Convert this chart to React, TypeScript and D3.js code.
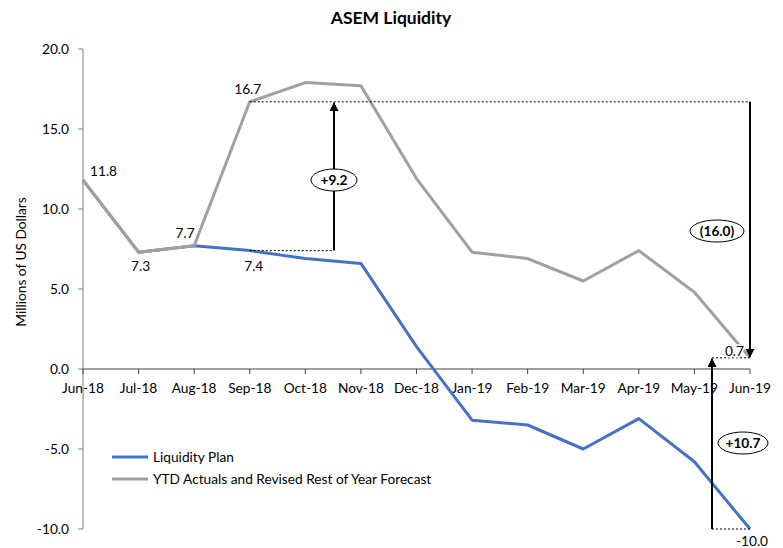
import React from "react";
import * as d3 from "d3";

const months = ["Jun-18","Jul-18","Aug-18","Sep-18","Oct-18","Nov-18","Dec-18","Jan-19","Feb-19","Mar-19","Apr-19","May-19","Jun-19"];
const planValues = [11.8, 7.3, 7.7, 7.4, 6.9, 6.6, 1.4, -3.2, -3.5, -5.0, -3.1, -5.8, -10.0];
const forecastValues = [11.8, 7.3, 7.7, 16.7, 17.9, 17.7, 11.9, 7.3, 6.9, 5.5, 7.4, 4.8, 0.7];
const yTicks = [-10, -5, 0, 5, 10, 15, 20];
const seriesNames = ["Liquidity Plan", "YTD Actuals and Revised Rest of Year Forecast"];
const pointLabels = [
  { series: "f", i: 0, text: "11.8", dx: 7, dy: -4, anchor: "start" },
  { series: "f", i: 1, text: "7.3", dx: 2, dy: 19, anchor: "middle" },
  { series: "f", i: 2, text: "7.7", dx: -9, dy: -8, anchor: "middle" },
  { series: "f", i: 3, text: "16.7", dx: -2, dy: -8, anchor: "middle" },
  { series: "p", i: 3, text: "7.4", dx: 4, dy: 20, anchor: "middle" },
];

const W = 783, H = 548;
const FONT = "Lato, 'Open Sans', sans-serif";
const FS = 13.7;

export default function App() {
  const x = d3.scalePoint<string>().domain(months).range([83, 750]);
  const y = d3.scaleLinear().domain([-10, 20]).range([529, 49]);
  const line = d3.line<number>().x((_, i) => x(months[i])!).y((d) => y(d));
  const blue = "#4472C4";
  const gray = "#A0A0A0";
  const axisColor = "#7f7f7f";

  const xSep = x("Sep-18")!;
  const xJun19 = x("Jun-19")!;
  const arrow1X = 334;
  const arrow3X = 712;
  const yPeak = y(forecastValues[3]);
  const yPlanSep = y(planValues[3]);
  const yEnd = y(forecastValues[12]);
  const yPlanEnd = y(planValues[12]);

  const ellipse = (cx: number, cy: number, rx: number, label: string) => (
    <g>
      <ellipse cx={cx} cy={cy} rx={rx} ry={11} fill="#fff" stroke="#000" strokeWidth={1} />
      <text x={cx} y={cy + 5} textAnchor="middle" fontWeight="bold" fontSize={FS} fontFamily={FONT}>{label}</text>
    </g>
  );

  return (
    <svg width={W} height={H} style={{ position: "absolute", left: 0, top: 0, background: "#fff" }}>
      <defs>
        <marker id="ah" viewBox="0 0 10 10" refX="9" refY="5" markerWidth="4.5" markerHeight="4.5" orient="auto">
          <path d="M0,0 L10,5 L0,10 z" fill="#000" />
        </marker>
      </defs>
      <rect width={W} height={H} fill="#fff" />
      <text x={391} y={24} textAnchor="middle" fontWeight="bold" fontSize={17.5} fontFamily={FONT}>ASEM Liquidity</text>

      {/* y axis */}
      <line x1={83} x2={83} y1={y(20)} y2={y(-10)} stroke={axisColor} strokeWidth={1} />
      {yTicks.map((t) => (
        <g key={t}>
          <line x1={78} x2={83} y1={y(t)} y2={y(t)} stroke={axisColor} />
          <text x={69} y={y(t) + 5} textAnchor="end" fontSize={FS} fontFamily={FONT} fill="#000">{t.toFixed(1)}</text>
        </g>
      ))}
      <text transform={`translate(26,262) rotate(-90)`} textAnchor="middle" fontSize={FS} fontFamily={FONT}>Millions of US Dollars</text>

      {/* x axis */}
      <line x1={83} x2={750} y1={y(0)} y2={y(0)} stroke="#404040" strokeWidth={1} />
      {months.map((m) => (
        <g key={m}>
          <line x1={x(m)} x2={x(m)} y1={y(0)} y2={y(0) + 5} stroke="#404040" />
          <text x={x(m)} y={y(0) + 24} textAnchor="middle" fontSize={FS} fontFamily={FONT}>{m}</text>
        </g>
      ))}

      {/* series */}
      <path d={line(planValues)!} fill="none" stroke={blue} strokeWidth={3} strokeLinejoin="round" />
      <path d={line(forecastValues)!} fill="none" stroke={gray} strokeWidth={3} strokeLinejoin="round" />

      {/* dotted reference lines */}
      <line x1={xSep} x2={xJun19} y1={yPeak} y2={yPeak} stroke="#000" strokeWidth={1} strokeDasharray="2,2" />
      <line x1={xSep} x2={arrow1X} y1={yPlanSep} y2={yPlanSep} stroke="#000" strokeWidth={1} strokeDasharray="2,2" />
      <line x1={arrow3X} x2={xJun19} y1={yEnd} y2={yEnd} stroke="#000" strokeWidth={1} strokeDasharray="2,2" />
      <line x1={arrow3X} x2={xJun19} y1={yPlanEnd} y2={yPlanEnd} stroke="#000" strokeWidth={1} strokeDasharray="2,2" />

      {/* arrows */}
      <line x1={arrow1X} x2={arrow1X} y1={yPlanSep} y2={yPeak + 1} stroke="#000" strokeWidth={2} markerEnd="url(#ah)" />
      <line x1={xJun19} x2={xJun19} y1={yPeak} y2={yEnd - 1} stroke="#000" strokeWidth={2} markerEnd="url(#ah)" />
      <line x1={arrow3X} x2={arrow3X} y1={yPlanEnd} y2={yEnd + 1} stroke="#000" strokeWidth={2} markerEnd="url(#ah)" />

      {ellipse(arrow1X, 180, 23, "+9.2")}
      {ellipse(717, 231, 27, "(16.0)")}
      {ellipse(743, 443, 25, "+10.7")}

      {/* point labels */}
      {pointLabels.map((p, k) => {
        const v = p.series === "f" ? forecastValues[p.i] : planValues[p.i];
        return (
          <text key={k} x={x(months[p.i])! + p.dx} y={y(v) + p.dy} textAnchor={p.anchor as any} fontSize={FS} fontFamily={FONT}>{p.text}</text>
        );
      })}
      <text x={xJun19 - 6} y={yEnd - 2} textAnchor="end" fontSize={FS} fontFamily={FONT} fill="#000" style={{ paintOrder: "stroke" }} stroke="#fff" strokeWidth={3}>{forecastValues[12].toFixed(1)}</text>
      <text x={xJun19 + 2} y={yPlanEnd + 17} textAnchor="middle" fontSize={FS} fontFamily={FONT}>{planValues[12].toFixed(1)}</text>

      {/* legend */}
      <line x1={112} x2={148} y1={457} y2={457} stroke={blue} strokeWidth={3} />
      <text x={153} y={462} fontSize={FS} fontFamily={FONT}>{seriesNames[0]}</text>
      <line x1={112} x2={148} y1={479} y2={479} stroke={gray} strokeWidth={3} />
      <text x={153} y={484} fontSize={FS} fontFamily={FONT}>{seriesNames[1]}</text>
    </svg>
  );
}
